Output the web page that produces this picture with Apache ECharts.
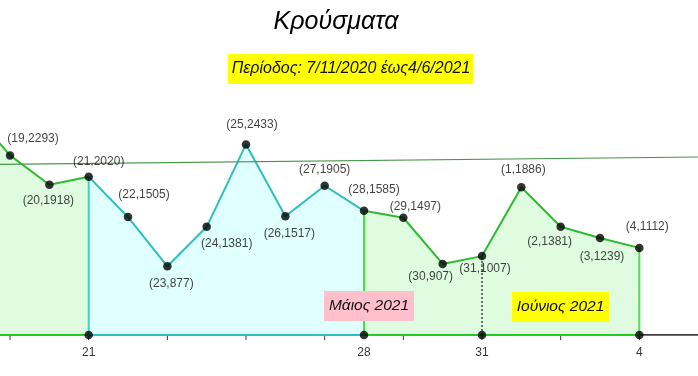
<!DOCTYPE html>
<html><head><meta charset="utf-8">
<script src="https://cdn.jsdelivr.net/npm/echarts@6/dist/echarts.min.js"></script>
<style>html,body{margin:0;padding:0;background:#fff}#c{width:698px;height:376px}</style>
</head><body><div id="c"></div>
<script>
// ---- data ----
const titleText = 'Κρούσματα';
const periodLabel = 'Περίοδος: 7/11/2020 έως4/6/2021';
const days  = ['18','19','20','21','22','23','24','25','26','27','28','29','30','31','1','2','3','4'];
const cases = [2870,2293,1918,2020,1505,877,1381,2433,1517,1905,1585,1497,907,1007,1886,1381,1239,1112];
const firstX = -1;                      // axis position of days[0]
const markedDays = ['21','28','31','4']; // tick labels shown on the axis
const tickPositions = [0,2,4,6,8,10,12,14,16];
const dottedDay = '31';
const trendX = [-2, 18];
const trendY = [2168, 2275];
const monthLabels = ['Μάιος 2021', 'Ιούνιος 2021'];
const xMin = -0.2553, xMax = 17.492;

// ---- styling ----
const FONT = "'Liberation Sans', Arial, sans-serif";
const GREEN = '#2fbb2f', GREEN_FILL = '#e0fce0';
const CYAN = '#2bbfbf', CYAN_FILL = '#e0ffff';
const labelOffsets = [null,[23,-17],[-1,16],[10,-15],[16,-22],[4,17],[20,17],[6,-20],[4,18],[0,-16],[10,-21],[12,-11],[-12,13],[3,13],[2,-18],[-11,15],[2,19],[8,-21]];

const pts = days.map((d, i) => [i + firstX, cases[i]]);
const xOf = d => days.indexOf(d) + firstX;
const iOf = d => days.indexOf(d);
const i21 = iOf('21'), i28 = iOf('28'), i4 = iOf('4');

function areaSeg(a, b, color, fill) {
  return { type: 'line', data: pts.slice(a, b + 1), symbol: 'none', clip: true, z: 2,
    lineStyle: { color, width: 2 }, areaStyle: { color: fill, opacity: 1, origin: 'start' }, silent: true };
}
function edge(data, color, width, type, z) {
  return { type: 'line', data, symbol: 'none', clip: true, z: z || 3,
    lineStyle: { color, width: width || 2, type: type || 'solid' }, silent: true };
}

const series = [
  areaSeg(0, i21, GREEN, GREEN_FILL),
  areaSeg(i21, i28, CYAN, CYAN_FILL),
  areaSeg(i28, i4, GREEN, GREEN_FILL),
  edge([[xMin, 0], [xMax, 0]], '#000', 1.5, 'solid', 2.5),
  edge([[pts[0][0], 0], [xOf('21'), 0]], '#22cc22'),
  edge([[xOf('21'), 0], [xOf('28'), 0]], CYAN),
  edge([[xOf('28'), 0], [xOf('4'), 0]], '#22cc22'),
  edge([[xOf('21'), 0], pts[i21]], '#33d6c0'),
  edge([[xOf('28'), 0], pts[i28]], '#3ce63c'),
  edge([[xOf('4'), 0], pts[i4]], '#4ee04e'),
  edge([[xOf(dottedDay), 0], pts[iOf(dottedDay)]], '#444', 1.5, [2, 2]),
  edge([[trendX[0], trendY[0]], [trendX[1], trendY[1]]], '#4a964a', 1.2),
  {
    // small axis tick marks below the axis line
    type: 'scatter', z: 4, symbol: 'rect', symbolSize: [1, 4], symbolOffset: [0, 3],
    itemStyle: { color: '#000' }, silent: true, clip: false,
    data: tickPositions.map(x => [x, 0])
  },
  {
    type: 'scatter', z: 5, symbolSize: 8.5, itemStyle: { color: '#000' }, silent: true,
    data: pts.map((p, i) => ({
      value: p,
      label: labelOffsets[i] ? { show: true, position: 'inside', offset: labelOffsets[i],
        formatter: '(' + days[i] + ',' + cases[i] + ')', color: '#111', fontSize: 12, fontFamily: FONT } : { show: false }
    })).slice(1)
  },
  {
    type: 'scatter', z: 5, symbolSize: 8.5, itemStyle: { color: '#000' }, silent: true,
    data: markedDays.map(d => ({ value: [xOf(d), 0] })),
    label: { show: true, position: 'bottom', distance: 7, color: '#000', fontSize: 12, fontFamily: FONT,
      formatter: p => markedDays[p.dataIndex] }
  }
];

const chart = echarts.init(document.getElementById('c'), null, { renderer: 'canvas' });
chart.setOption({
  animation: false,
  backgroundColor: '#fff',
  grid: { left: 0, right: 0, top: 100, bottom: 41, containLabel: false },
  xAxis: { type: 'value', min: xMin, max: xMax, show: false, splitLine: { show: false } },
  yAxis: { type: 'value', min: 0, max: 3000, show: false, splitLine: { show: false } },
  series,
  graphic: [
    { type: 'text', x: 336, y: 22, style: { text: titleText, align: 'center', verticalAlign: 'middle', fontSize: 25, fontStyle: 'italic', fontFamily: FONT, fill: '#000' }, silent: true },
    { type: 'rect', shape: { x: 228, y: 54, width: 245, height: 30 }, style: { fill: '#ffff00' }, silent: true },
    { type: 'text', x: 351, y: 69, style: { text: periodLabel, align: 'center', verticalAlign: 'middle', fontSize: 16, fontStyle: 'italic', fontFamily: FONT, fill: '#111' }, silent: true },
    { type: 'rect', shape: { x: 324, y: 291, width: 90, height: 30 }, style: { fill: '#ffc0cb' }, z: 10, silent: true },
    { type: 'text', x: 369, y: 306, z: 11, style: { text: monthLabels[0], align: 'center', verticalAlign: 'middle', fontSize: 15.5, fontStyle: 'italic', fontFamily: FONT, fill: '#111' }, silent: true },
    { type: 'rect', shape: { x: 512, y: 292, width: 97, height: 30 }, style: { fill: '#ffff00' }, z: 10, silent: true },
    { type: 'text', x: 560.5, y: 307, z: 11, style: { text: monthLabels[1], align: 'center', verticalAlign: 'middle', fontSize: 15.5, fontStyle: 'italic', fontFamily: FONT, fill: '#111' }, silent: true }
  ]
});
</script></body></html>
